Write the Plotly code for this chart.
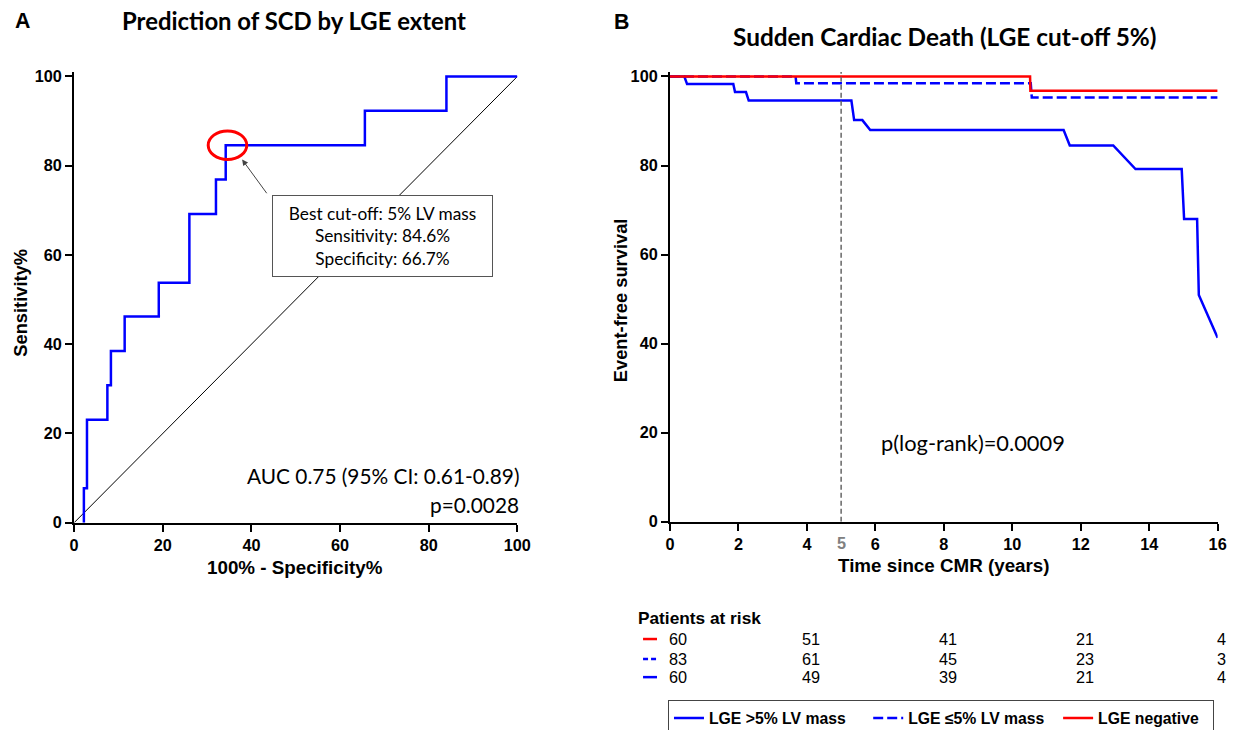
import plotly.graph_objects as go

# ---------------- data ----------------
# Panel A: ROC curve (100% - specificity, sensitivity), step vertices (vertical-then-horizontal)
roc_fpr = [2.2, 2.9, 7.5, 8.3, 11.4, 19.1, 26.0, 32.0, 34.2, 65.6, 84.0, 100.0]
roc_sens = [0.0, 7.7, 23.1, 30.8, 38.5, 46.2, 53.8, 69.2, 76.9, 84.6, 92.3, 100.0]
diag_x = [0, 100]
diag_y = [0, 100]
best_point = (34.6, 84.6)

# Panel B: Kaplan-Meier curves (time in years, event-free survival %), vertices
km_gt5_t = [0, 0.42, 0.5, 1.85, 1.9, 2.22, 2.3, 5.3, 5.38, 5.62, 5.85, 11.5, 11.68, 12.95, 13.6, 14.95, 15.02, 15.4, 15.45, 16.0]
km_gt5_s = [100, 100, 98.3, 98.3, 96.5, 96.5, 94.6, 94.6, 90.2, 90.2, 88.0, 88.0, 84.5, 84.5, 79.2, 79.2, 68.0, 68.0, 50.9, 41.3]
km_le5_t = [0, 3.67, 3.69, 10.54, 10.57, 16.0]
km_le5_s = [100, 100, 98.5, 98.5, 95.3, 95.3]
km_neg_t = [0, 10.52, 10.53, 16.0]
km_neg_s = [100, 100, 96.8, 96.8]

# patients at risk
risk_times = [0, 4, 8, 12, 16]
risk_neg = [60, 51, 41, 21, 4]
risk_le5 = [83, 61, 45, 23, 3]
risk_gt5 = [60, 49, 39, 21, 4]

x_ticks_a = [0, 20, 40, 60, 80, 100]
y_ticks = [0, 20, 40, 60, 80, 100]
x_ticks_b = [0, 2, 4, 6, 8, 10, 12, 14, 16]

# ---------------- figure geometry ----------------
W, H = 1249, 746
SX, SY = 1233 / 1249, 730 / 746   # page -> photo scale observed
CX, CY = 3.4, 3.7                 # page -> photo offset observed
FS = 1.016                        # font compensation
BLUE = "#0000ff"
RED = "#ff0000"
ARIAL = "Liberation Sans"
CAL = "Lato"
NB = "\u00a0"


def px_x(t):
    return ((t - CX) / SX) / W


def px_y(t):
    return 1 - ((t - CY) / SY) / H


def f(s):
    return round(s * FS, 2)


fig = go.Figure()

# Panel A
fig.add_trace(go.Scatter(x=diag_x, y=diag_y, mode="lines", line=dict(color="black", width=1),
                         showlegend=False, hoverinfo="skip", xaxis="x", yaxis="y"))
fig.add_trace(go.Scatter(x=roc_fpr, y=roc_sens, mode="lines", line=dict(color=BLUE, width=2.5, shape="vh"),
                         showlegend=False, xaxis="x", yaxis="y"))

# Panel B
fig.add_trace(go.Scatter(x=km_gt5_t, y=km_gt5_s, mode="lines", name="LGE >5% LV mass" + NB * 4,
                         line=dict(color=BLUE, width=2.5), xaxis="x2", yaxis="y2"))
fig.add_trace(go.Scatter(x=km_le5_t, y=km_le5_s, mode="lines", name="LGE ≤5% LV mass" + NB * 2,
                         line=dict(color=BLUE, width=2.5, dash="10px,4px"), xaxis="x2", yaxis="y2"))
fig.add_trace(go.Scatter(x=km_neg_t, y=km_neg_s, mode="lines", name="LGE negative" + NB * 2,
                         line=dict(color=RED, width=2.5), xaxis="x2", yaxis="y2"))

tickfont = dict(family=ARIAL, size=f(16), color="black", weight="bold")
axis_common = dict(showgrid=False, zeroline=False, showline=True, linecolor="black", linewidth=2,
                   ticks="outside", ticklen=7, tickwidth=2, tickcolor="black", tickfont=tickfont)

fig.update_layout(
    width=W, height=H,
    margin=dict(l=0, r=0, t=0, b=0),
    plot_bgcolor="white", paper_bgcolor="white",
    xaxis=dict(domain=[px_x(72.7), px_x(517)], range=[0, 100], tickvals=x_ticks_a, anchor="y", **axis_common),
    yaxis=dict(domain=[px_y(520), px_y(70.55)], range=[0, 101], tickvals=y_ticks, anchor="x", **axis_common),
    xaxis2=dict(domain=[px_x(670), px_x(1219)], range=[0, 16], tickvals=x_ticks_b, anchor="y2", **axis_common),
    yaxis2=dict(domain=[px_y(519), px_y(70.56)], range=[0, 101], tickvals=y_ticks, anchor="x2", **axis_common),
    legend=dict(orientation="h", x=px_x(668), y=px_y(697), xanchor="left", yanchor="top",
                bordercolor="#444444", borderwidth=1, bgcolor="white",
                font=dict(family=ARIAL, size=f(15.5), color="black", weight="bold"),
                itemwidth=30, tracegroupgap=0),
    showlegend=True,
)

ann = []


def txt(x, y, text, size, family, bold=False, xanchor="center", yanchor="middle", angle=0, color="black",
        xref="paper", yref="paper", **kw):
    ann.append(dict(x=x, y=y, text=text, showarrow=False, xref=xref, yref=yref, xanchor=xanchor,
                    yanchor=yanchor, textangle=angle,
                    font=dict(family=family, size=f(size), color=color, weight="bold" if bold else "normal"), **kw))


# panel letters and titles
txt(px_x(21), px_y(20), "A", 21, ARIAL, bold=True)
txt(px_x(621), px_y(21), "B", 21, ARIAL, bold=True)
txt(px_x(293), px_y(19), "Prediction of SCD by LGE extent", 23.5, CAL, bold=True)
txt(px_x(946), px_y(35), "Sudden Cardiac Death (LGE cut-off 5%)", 24, CAL, bold=True)

# axis titles
txt(px_x(19), px_y(301), "Sensitivity%", 18, ARIAL, bold=True, angle=-90)
txt(px_x(294), px_y(565), "100% - Specificity%", 18.5, ARIAL, bold=True)
txt(px_x(620), px_y(298), "Event-free survival", 18, ARIAL, bold=True, angle=-90)
txt(px_x(945), px_y(563), "Time since CMR (years)", 18.5, ARIAL, bold=True)

# gray "5" tick label
txt(5, px_y(540), "5", 16, ARIAL, bold=True, color="#808080", xref="x2")

# AUC text
txt(100, 10.6, "AUC 0.75 (95% CI: 0.61-0.89)", 20.5, CAL, xanchor="right", xref="x", yref="y", xshift=4)
txt(100, 4.1, "p=0.0028", 20.5, CAL, xanchor="right", xref="x", yref="y", xshift=4)

# best cut-off box
ann.append(dict(x=69.5, y=64.3, xref="x", yref="y", showarrow=False,
                text="Best cut-off: 5% LV mass<br>Sensitivity: 84.6%<br>Specificity: 66.7%",
                align="center", width=round(212 / SX), height=round(74 / SY), bordercolor="#555555",
                borderwidth=1, borderpad=2, bgcolor="white", font=dict(family=CAL, size=f(17), color="black")))
# arrow
ann.append(dict(x=37.9, y=81.4, ax=43.7, ay=73.5, xref="x", yref="y", axref="x", ayref="y",
                text="", showarrow=True, arrowhead=2, arrowsize=1.2, arrowwidth=1, arrowcolor="#444444"))

# log-rank p
txt(8.85, 17.7, "p(log-rank)=0.0009", 21.5, CAL, xref="x2", yref="y2")

# patients at risk
txt(px_x(636), px_y(615), "Patients at risk", 17, ARIAL, bold=True, xanchor="left")
rows = [(risk_neg, 636), (risk_le5, 656), (risk_gt5, 674)]
for vals, ypx in rows:
    for i, (t, v) in enumerate(zip(risk_times, vals)):
        if i == 0:
            txt(px_x(667), px_y(ypx), str(v), 16, ARIAL, xanchor="left")
        else:
            txt(t, px_y(ypx), str(v), 16, ARIAL, xref="x2", xshift=4)

fig.update_layout(annotations=ann)

shapes = [
    # red ellipse at best cut-off
    dict(type="circle", xref="x", yref="y", x0=best_point[0] - 4.35, x1=best_point[0] + 4.35,
         y0=best_point[1] - 3.2, y1=best_point[1] + 3.2, line=dict(color=RED, width=3)),
    # vertical dashed line at 5 years
    dict(type="line", xref="x2", yref="y2", x0=5, x1=5, y0=0, y1=101,
         line=dict(color="#666666", width=1.5, dash="5px,3px")),
    # risk table line keys
    dict(type="line", xref="paper", yref="paper", x0=px_x(643), x1=px_x(657), y0=px_y(636), y1=px_y(636),
         line=dict(color=RED, width=2.5)),
    dict(type="line", xref="paper", yref="paper", x0=px_x(643), x1=px_x(657), y0=px_y(656), y1=px_y(656),
         line=dict(color=BLUE, width=2.5, dash="5px,3px")),
    dict(type="line", xref="paper", yref="paper", x0=px_x(643), x1=px_x(657), y0=px_y(674), y1=px_y(674),
         line=dict(color=BLUE, width=2.5)),
]
fig.update_layout(shapes=shapes)

fig.write_html("out.html", config={"displayModeBar": False},
               post_script="document.body.style.margin='0';document.body.style.overflow='hidden';")
